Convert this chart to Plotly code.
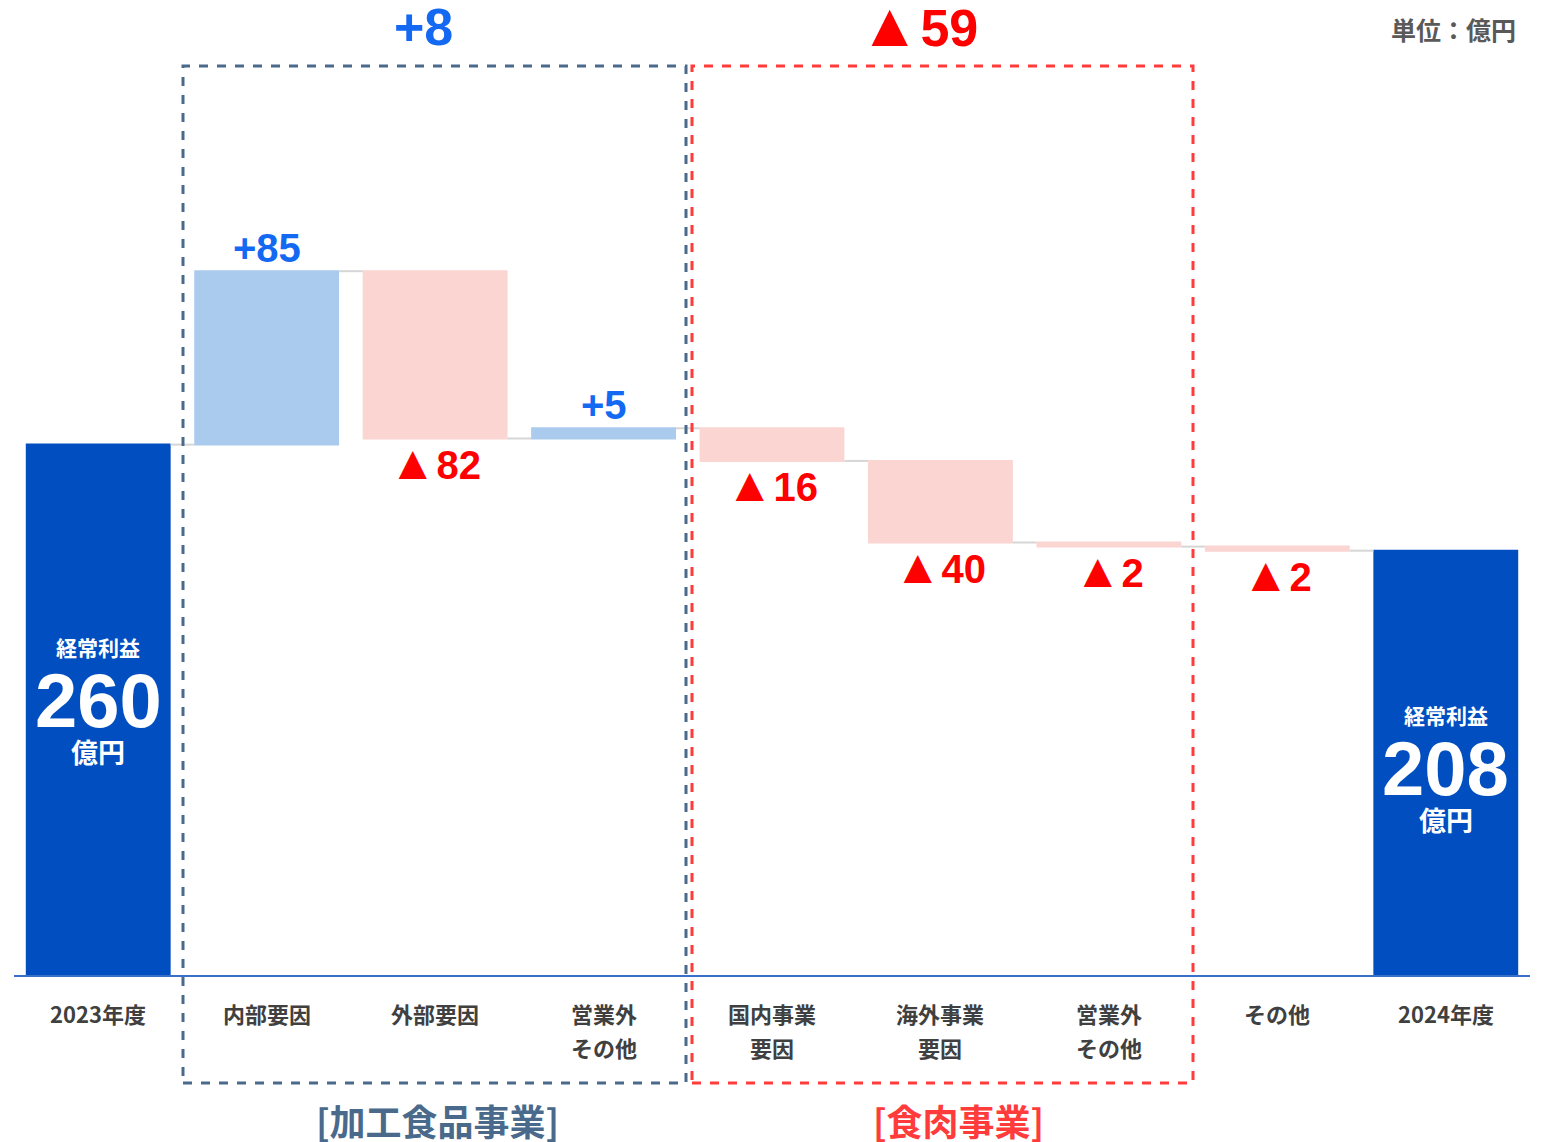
import plotly.graph_objects as go

# data
categories = ["2023年度", "内部要因", "外部要因", "営業外<br>その他", "国内事業<br>要因",
              "海外事業<br>要因", "営業外<br>その他", "その他", "2024年度"]
values = [260, 85, -82, 5, -16, -40, -2, -2, 208]
measures = ["absolute", "relative", "relative", "relative", "relative",
            "relative", "relative", "relative", "total"]
delta_labels = ["", "+85", "▲82", "+5", "▲16", "▲40", "▲2", "▲2", ""]
group_totals = ["+8", "▲59"]
group_names = ["[加工食品事業]", "[食肉事業]"]

DARK_BLUE = "#004ec0"
BLUE_TXT = "#1469f2"
RED_TXT = "#ff0000"
BOX_BLUE = "#4a6a8c"
BOX_RED = "#ff3b3b"
JP = "Noto Sans CJK JP"
NUM = "Liberation Sans, Noto Sans CJK JP"

# page body has an 8px margin, so the figure is 8px smaller than the window
OFF = 8
W, H = 1549 - OFF, 1142 - OFF
PLOT_L, PLOT_R, PLOT_T, PLOT_B = 14, 1530, 10, 975   # plot area in window pixels
L, T = PLOT_L - OFF, PLOT_T - OFF
R = W - (PLOT_R - OFF)
B = H - (PLOT_B - OFF)
YMAX = (PLOT_B - PLOT_T) / 2.04


def px(x):
    # window pixel x -> paper fraction
    return (x - PLOT_L) / (PLOT_R - PLOT_L)


def py(y):
    # window pixel y -> paper fraction
    return (PLOT_B - y) / (PLOT_B - PLOT_T)


def tri(label, size):
    # the triangle is drawn a bit larger than the digits, as in the source
    if label.startswith("▲"):
        return "<span style='font-size:%dpx'>▲</span>%s" % (int(size * 1.2), label[1:])
    return label


xs = list(range(len(categories)))

fig = go.Figure(go.Waterfall(
    x=xs,
    y=values,
    measure=measures,
    width=0.86,
    increasing=dict(marker=dict(color="#aacbee")),
    decreasing=dict(marker=dict(color="#fbd5d1")),
    totals=dict(marker=dict(color=DARK_BLUE)),
    connector=dict(line=dict(color="#d6d6d6", width=2)),
    hoverinfo="skip",
    textinfo="none",
))

# running levels for label placement
levels = []
run = 0
for v, m in zip(values, measures):
    start = run if m == "relative" else 0
    run = run + v if m == "relative" else v
    levels.append((start, run))

ann = []
for i, lab in enumerate(delta_labels):
    if not lab:
        continue
    s, e = levels[i]
    up = values[i] > 0
    ann.append(dict(x=i, y=e, text="<b>%s</b>" % tri(lab, 40), showarrow=False,
                    xanchor="center", yanchor="middle", yshift=23 if up else -24,
                    font=dict(family=NUM, size=40, color=BLUE_TXT if up else RED_TXT)))

# labels inside total bars
for i, centre in [(0, 700), (8, 768)]:
    ann.append(dict(x=i, y=py(centre - 53), yref="paper", text="<b>経常利益</b>", showarrow=False,
                    xanchor="center", yanchor="middle",
                    font=dict(family=JP, size=21, color="white")))
    ann.append(dict(x=i, y=py(centre), yref="paper", text="<b>%d</b>" % values[i], showarrow=False,
                    xanchor="center", yanchor="middle",
                    font=dict(family=NUM, size=76, color="white")))
    ann.append(dict(x=i, y=py(centre + 51), yref="paper", text="<b>億円</b>", showarrow=False,
                    xanchor="center", yanchor="middle",
                    font=dict(family=JP, size=27, color="white")))

# category labels under the axis (one annotation per line for wider line spacing)
for i, c in enumerate(categories):
    for k, line in enumerate(c.split("<br>")):
        ann.append(dict(x=i, y=py(1013 + 34 * k), yref="paper", text="<b>%s</b>" % line,
                        showarrow=False, xanchor="center", yanchor="middle",
                        font=dict(family=JP, size=22, color="#404040")))

# group totals and names
ann.append(dict(x=px(423), y=py(27), xref="paper", yref="paper", text="<b>%s</b>" % group_totals[0],
                showarrow=False, xanchor="center", yanchor="middle",
                font=dict(family=NUM, size=52, color=BLUE_TXT)))
ann.append(dict(x=px(918), y=py(24), xref="paper", yref="paper", text="<b>%s</b>" % tri(group_totals[1], 52),
                showarrow=False, xanchor="center", yanchor="middle",
                font=dict(family=NUM, size=52, color=RED_TXT)))
ann.append(dict(x=px(437), y=py(1120), xref="paper", yref="paper", text="<b>%s</b>" % group_names[0],
                showarrow=False, xanchor="center", yanchor="middle",
                font=dict(family=JP, size=36, color=BOX_BLUE)))
ann.append(dict(x=px(958), y=py(1120), xref="paper", yref="paper", text="<b>%s</b>" % group_names[1],
                showarrow=False, xanchor="center", yanchor="middle",
                font=dict(family=JP, size=36, color=BOX_RED)))

ann.append(dict(x=px(1518), y=py(29), xref="paper", yref="paper", xanchor="right", yanchor="middle",
                text="<b>単位：億円</b>", showarrow=False, font=dict(family=JP, size=25, color="#595959")))

shapes = [
    dict(type="rect", xref="paper", yref="paper", x0=px(183), x1=px(686),
         y0=py(1083), y1=py(66), line=dict(color=BOX_BLUE, width=3, dash="dash")),
    dict(type="rect", xref="paper", yref="paper", x0=px(692), x1=px(1193),
         y0=py(1083), y1=py(66), line=dict(color=BOX_RED, width=3, dash="dash")),
    dict(type="line", xref="paper", yref="paper", x0=px(1545), x1=px(1545),
         y0=py(960), y1=py(140), line=dict(color="#ececec", width=1)),
]

fig.update_layout(
    width=W, height=H,
    margin=dict(l=L, r=R, t=T, b=B),
    plot_bgcolor="white", paper_bgcolor="white",
    showlegend=False,
    annotations=ann,
    shapes=shapes,
    xaxis=dict(range=[-0.5, 8.5], showticklabels=False, showgrid=False, zeroline=False,
               showline=True, linecolor="#3a70c8", linewidth=2, fixedrange=True),
    yaxis=dict(range=[0, YMAX], visible=False, showgrid=False, zeroline=False, fixedrange=True),
)

fig.write_html("out.html")
